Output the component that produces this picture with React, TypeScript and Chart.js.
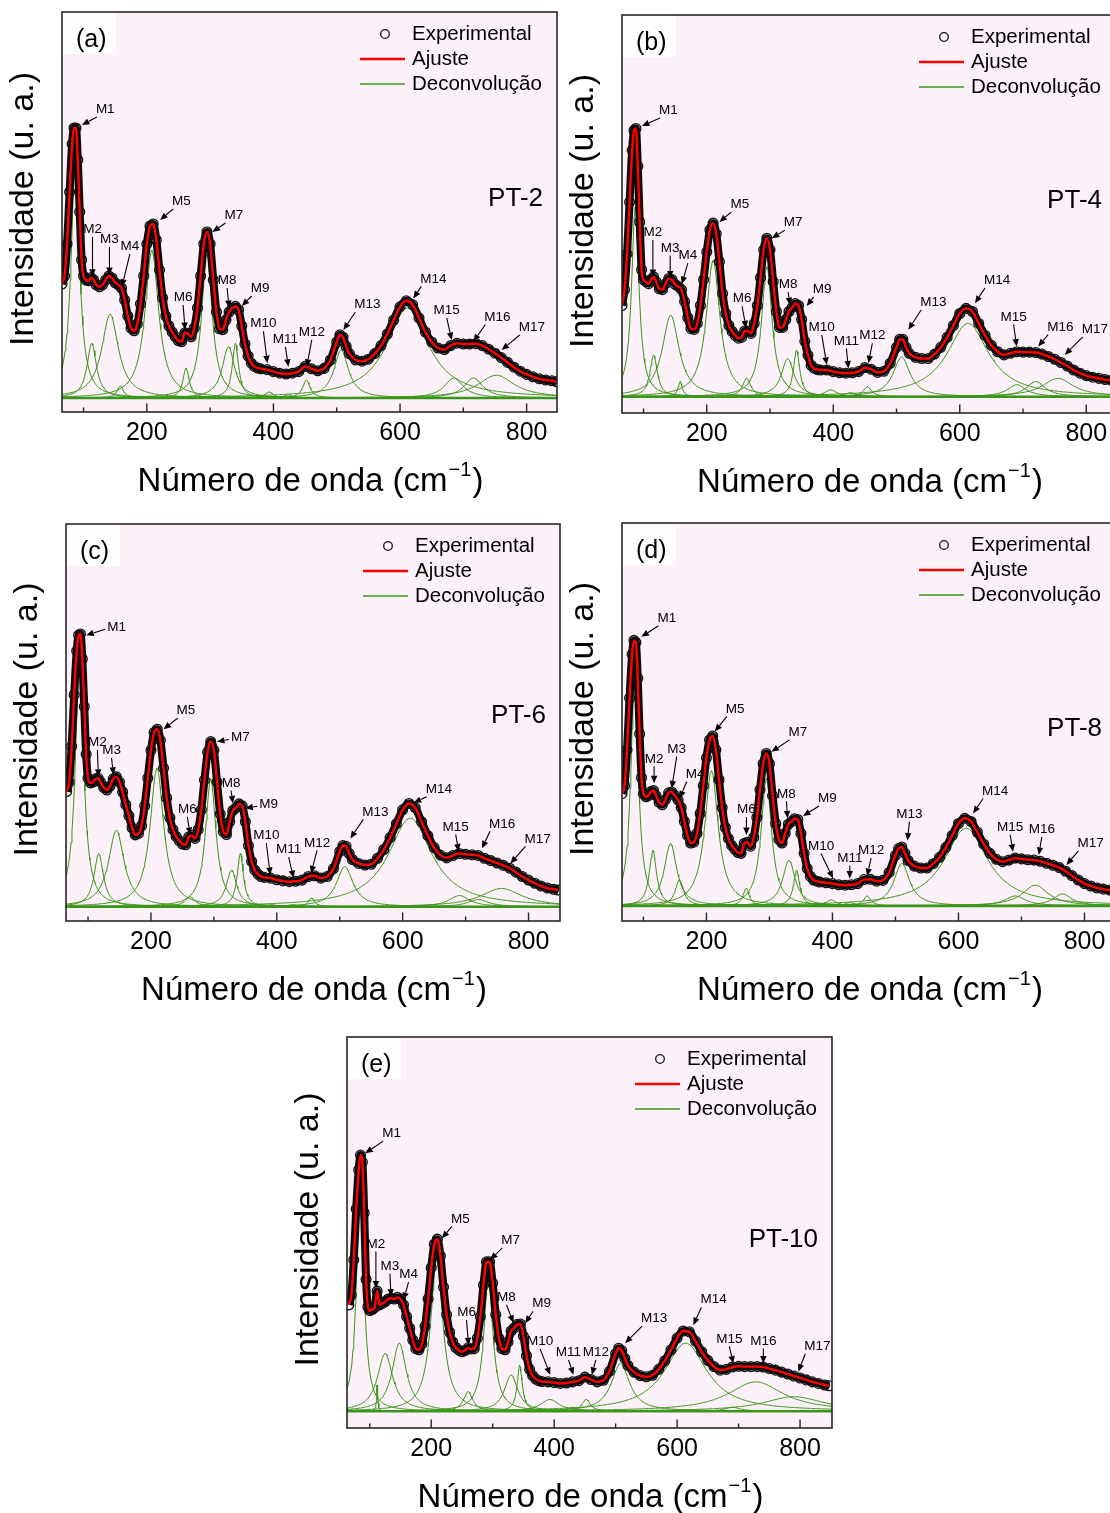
import React, { useEffect, useRef } from 'react';
import { Chart, registerables } from 'chart.js';

Chart.register(...registerables);

// ---------------- data ----------------
const WAVENUMBERS = [
  66, 70, 74, 78, 82, 85, 88, 91, 94, 97, 100,
  104, 108, 112, 116, 120,
  125, 130, 135, 140, 145, 150, 155, 160, 165, 170,
  175, 180, 185, 190, 195, 200, 205, 210, 215, 220,
  225, 230, 235, 240, 245, 250, 255, 260, 265, 270,
  275, 280, 285, 290, 295, 300, 305, 310, 315, 320,
  325, 330, 335, 340, 345, 350, 355, 360, 365, 370,
  375, 380,
  390, 400, 410, 420, 430, 440, 450, 460, 470, 480, 490, 500,
  505, 510, 515, 520,
  530, 540, 550, 560, 570, 580, 590, 600, 610, 620,
  630, 640, 650, 660, 670, 680, 690, 700, 710, 720,
  730, 740, 750, 760, 770, 780, 790, 800, 810, 820,
  830, 840,
  847,
];

const PT2_INTENSITY = [
  32, 34, 42, 55, 67, 71, 71, 63, 50, 38, 34,
  33, 32.8, 33.6, 33, 31.8,
  31.3, 31.8, 33, 34, 33.5, 32.3, 31.8, 31, 28, 24,
  21, 20.3, 22, 27, 34, 42, 46.5, 47, 43, 35.5,
  28.5, 24, 21.5, 20, 18.8, 17.8, 17.6, 19.8, 19.6, 18.8,
  21, 26, 34, 42, 45, 42, 33, 25, 20.8, 20.6,
  23, 25, 26, 26.4, 25.5, 21.5, 17, 14, 12.2, 11.4,
  11, 10.8,
  10.6, 10.1, 9.7, 9.5, 9.7, 10.1, 11.4, 10.8, 10.3, 10.9, 13, 17.5,
  19.3, 18.7, 16.4, 14.6,
  13, 12.7, 13.2, 14.6, 16.6, 19.5, 23, 26.3, 27.8, 26.8,
  23.5, 20, 17.5, 16, 15.6, 16.6, 17.2, 17, 17, 17.1,
  16.6, 15.7, 14.7, 13.6, 12.4, 11.2, 10.2, 9.4, 8.8, 8.3,
  8, 7.8,
  7.6,
];

const PT4_INTENSITY = [
  27, 31, 40, 53, 66, 71, 71.5, 62, 48, 36, 33.5,
  33, 32.5, 33.5, 34.2, 33,
  31.2, 31, 32.5, 33.8, 33.5, 32.3, 31.8, 31, 28, 24,
  21.2, 21, 22.5, 27, 33.5, 40.5, 46, 47.7, 45, 38,
  30, 25, 22, 20.5, 19.5, 18.8, 19, 20.6, 20.6, 20,
  22.5, 27, 34, 41, 43.9, 41, 33, 25.5, 21.5, 21.5,
  23.5, 25.5, 26.5, 27.5, 27, 23.5, 18, 14.5, 12, 11.2,
  10.9, 10.8,
  10.8, 10.4, 10.1, 10, 10.1, 10.4, 11.4, 11, 10.2, 10.5, 12.5, 16.5,
  18.5, 18.5, 16.5, 15,
  14, 13.7, 13.7, 14.8, 16.5, 19, 22, 25, 26.3, 25.5,
  22.5, 19.5, 17, 15.4, 14.6, 15, 15.4, 15.3, 15.3, 15.2,
  14.8, 14.2, 13.5, 12.7, 11.8, 10.8, 10, 9.4, 9, 8.7,
  8.4, 8.2,
  8.1,
];

const PT6_INTENSITY = [
  32.6, 35, 44, 57, 68, 72, 72.3, 66, 54, 42, 36,
  34.8, 35, 35.8, 36, 35,
  33.6, 33, 34, 35.8, 36.3, 35, 32.5, 29.3, 26.5, 23.5,
  21.7, 22, 24, 29, 36, 43, 47.5, 48.3, 45.5, 38.5,
  31, 26, 23, 21.3, 20.2, 19.4, 19.2, 21.2, 21.5, 20.8,
  23, 28, 35.5, 42.5, 45.2, 43, 35, 27, 22.5, 21.8,
  25, 27.8, 28.5, 29.5, 29, 25, 19, 15, 12.8, 11.8,
  11.2, 11,
  10.8, 10.4, 10.1, 9.9, 10, 10.3, 11.2, 11.4, 10.8, 11.2, 13.2, 17.5,
  19, 18.8, 17, 15.5,
  14.5, 14.1, 14.3, 15.8, 18, 21, 24.5, 28, 29.6, 28.5,
  25, 21.5, 18.5, 16.6, 15.9, 16.5, 17, 16.8, 16.7, 16.5,
  15.8, 15.2, 14.6, 14, 13.3, 12.3, 11.2, 10.3, 9.5, 8.8,
  8.3, 8,
  7.8,
];

const PT8_INTENSITY = [
  32, 34, 43, 56, 67, 70.5, 70, 61, 47, 36, 32,
  31.2, 31.5, 32.5, 32.8, 31.5,
  29.8, 29.2, 30.5, 32.2, 32.4, 31.5, 30.4, 28.5, 25, 21.5,
  19.6, 19.8, 22, 27, 34, 41, 45.5, 46.5, 43, 35.5,
  28.5, 23.5, 20.7, 19, 18, 17.2, 17, 19.5, 19.8, 18.8,
  21, 26, 33, 39.5, 42.1, 39.5, 31.5, 24.5, 20.5, 19.6,
  22, 24.3, 25, 25.7, 25.5, 22, 17, 13.2, 11.2, 10.3,
  10, 9.8,
  9.6, 9.4, 9.1, 9, 9.1, 9.4, 10.4, 10.5, 10, 10.2, 12.2, 16.5,
  18.2, 18.6, 17, 15.2,
  13.8, 13.3, 13.3, 14.4, 16, 18.5, 21.5, 24.5, 25.8, 25,
  22.3, 19.3, 17, 15.5, 14.9, 15.3, 15.8, 15.6, 15.4, 15.3,
  15, 14.5, 14, 13.4, 12.5, 11.4, 10.3, 9.4, 8.8, 8.3,
  8, 7.8,
  7.7,
];

const PT10_INTENSITY = [
  31.5, 34, 43, 56, 66, 69.8, 68, 55, 38, 31, 30,
  30.3, 30.8, 35, 31.5, 31.8,
  32.3, 33, 33.2, 33, 33.4, 33, 31.5, 28.5, 25.5, 22.5,
  20.3, 20, 21.5, 26, 33, 41, 47, 48.3, 44, 36,
  29, 24.5, 22, 20.6, 19.9, 19.5, 19.8, 20.5, 20.2, 20.3,
  23, 28.5, 36.5, 42.5, 42.5, 37, 29, 23, 20.3, 20,
  22, 24.8, 25.6, 26.5, 26.6, 23.5, 18.5, 15, 13.4, 12.5,
  12.1, 11.9,
  11.8, 11.6, 11.4, 11.5, 11.8, 12.1, 13, 12.4, 11.8, 12.2, 14.5, 19,
  20.4, 19.8, 17.8, 16,
  14.3, 13.4, 13.1, 13.5, 15, 17.2, 20, 23, 24.8, 24.6,
  22.2, 19.5, 17.3, 15.7, 14.8, 15, 15.6, 15.8, 15.7, 15.7,
  15.7, 15.6, 15.2, 14.8, 14.3, 13.8, 13.3, 12.8, 12.3, 11.8,
  11.4, 11,
  10.8,
];

// Deconvolution components (Lorentzian bands): centre, height above baseline, half width
const PT2_CENTERS = [87, 113, 142, 158, 208, 262, 295, 329, 340, 393, 423, 452, 507, 612, 685, 716, 752];
const PT2_HEIGHTS = [59, 13.7, 21, 3, 37, 7.5, 36, 12.8, 13.7, 1.5, 0.8, 4.5, 12, 22.5, 5, 5, 5.7];
const PT2_WIDTHS = [8, 9, 16, 6, 13, 6, 10, 12, 6, 8, 8, 7, 14, 40, 18, 18, 35];
const PT2_BASELINE = 3.5;

const PT4_CENTERS = [87, 116, 143, 158, 210, 263, 295, 328, 342, 396, 427, 454, 508, 613, 690, 720, 755];
const PT4_HEIGHTS = [47.7, 10.5, 20.5, 3.8, 34.3, 4.6, 32.7, 9.6, 11.7, 1.7, 1, 2.5, 10, 18.4, 3, 3.8, 4.6];
const PT4_WIDTHS = [7, 7, 16, 4, 13, 8, 10, 12, 6, 12, 10, 8, 16, 40, 18, 18, 30];
const PT4_BASELINE = 4.1;

const PT6_CENTERS = [86.5, 117, 145, 160, 209.5, 262, 295, 328, 342, 392, 425, 455, 508, 612, 690, 720, 757];
const PT6_HEIGHTS = [62, 13.4, 19.3, 0, 34.9, 2.5, 32.3, 9.2, 13.4, 0.5, 0.5, 2.2, 10.1, 22.3, 2.8, 1.8, 4.6];
const PT6_WIDTHS = [8, 9, 15, 8, 13, 10, 10, 10, 6, 10, 10, 6, 16, 42, 20, 20, 40];
const PT6_BASELINE = 3.6;

const PT8_CENTERS = [86, 115, 143, 157, 208, 263, 295, 331, 343, 398, 428, 455, 510, 612, 690, 722, 765];
const PT8_HEIGHTS = [59, 14, 15.7, 6.5, 34, 4.4, 32, 11.5, 9, 1.5, 0.8, 2.5, 10.7, 19.5, 2.5, 5.2, 3];
const PT8_WIDTHS = [7, 7, 12, 8, 13, 6, 10, 12, 6, 10, 10, 7, 15, 42, 20, 25, 18];
const PT8_BASELINE = 3.8;

const PT10_CENTERS = [84.5, 112, 125, 148, 209, 260, 293, 330, 344, 393, 430, 452, 508, 614, 690, 728, 790];
const PT10_HEIGHTS = [59, 6.7, 14.8, 17.4, 38.7, 5, 34, 9.3, 11.8, 3, 1, 3, 12.2, 17.4, 1, 7.5, 3.7];
const PT10_WIDTHS = [7, 1.2, 15, 14, 12, 9, 9, 13, 5, 18, 10, 8, 18, 42, 15, 55, 60];
const PT10_BASELINE = 4.3;

// x-axis ticks
const MAJOR_TICKS = [200, 400, 600, 800];
const MINOR_TICKS = [100, 300, 500, 700];

// Mode annotations: [label, arrow-tip wavenumber, arrow-tip intensity, tail dx px, tail dy px]
type Annot = [string, number, number, number, number];

const PT2_MODES: Annot[] = [
  ['M1', 97.4, 71.75, 15, -8], ['M2', 114.2, 33.8, 0, -40], ['M3', 141, 34.25, 0, -28],
  ['M4', 160.6, 31.3, 8, -33], ['M5', 221, 48, 13, -11], ['M6', 260.5, 20.5, -2, -25],
  ['M7', 303.7, 45, 13, -9], ['M8', 330, 26, -2, -20], ['M9', 350, 26.5, 10, -10],
  ['M10', 390.5, 12.2, -4, -32], ['M11', 423.7, 11.3, -3, -20], ['M12', 452.7, 11.3, 5, -27],
  ['M13', 510.5, 20.5, 12, -18], ['M14', 621, 28.4, 8, -12], ['M15', 681.7, 18, -5, -22],
  ['M16', 715.8, 17.6, 12, -17], ['M17', 760.6, 15.5, 18, -15],
];
const PT4_MODES: Annot[] = [
  ['M1', 97.5, 72.1, 18, -8], ['M2', 114.8, 34.2, 0, -37], ['M3', 142.2, 33.8, 0, -23],
  ['M4', 160.6, 32.4, 6, -21], ['M5', 220, 48, 12, -10], ['M6', 262.2, 21.3, -4, -22],
  ['M7', 302.8, 43.9, 13, -8], ['M8', 331.8, 27.1, -2, -13], ['M9', 358, 26.9, 7, -9],
  ['M10', 389.7, 12.1, -5, -30], ['M11', 423.9, 11.2, -2, -20], ['M12', 455.5, 12.5, 4, -20],
  ['M13', 518.6, 20.9, 13, -20], ['M14', 624, 27.6, 10, -15], ['M15', 689.9, 16.7, -3, -22],
  ['M16', 724, 16.7, 10, -12], ['M17', 766, 14.6, 18, -18],
];
const PT6_MODES: Annot[] = [
  ['M1', 97.1, 72, 19, -6], ['M2', 116.5, 36.3, -1, -27], ['M3', 140.5, 36.8, -2, -17],
  ['M5', 220, 48.3, 14, -11], ['M6', 262.5, 21.7, -3, -18], ['M7', 304.9, 45.2, 12, -2],
  ['M8', 330.4, 29.6, -2, -13], ['M9', 350, 28.4, 12, -2], ['M10', 389.6, 11.6, -4, -32],
  ['M11', 426.7, 10.8, -5, -21], ['M12', 454.4, 12, 6, -23], ['M13', 516.8, 20.8, 13, -19],
  ['M14', 617.5, 29.8, 13, -6], ['M15', 689, 17.5, -3, -17], ['M16', 726, 18.3, 8, -17],
  ['M17', 771.2, 14.5, 15, -17],
];
const PT8_MODES: Annot[] = [
  ['M1', 96.8, 71.4, 17, -11], ['M2', 117, 34.6, 0, -17], ['M3', 144.9, 33.3, 5, -32],
  ['M4', 157.6, 30.8, 7, -17], ['M5', 213.2, 47.6, 12, -15], ['M6', 263.5, 21.6, 0, -18],
  ['M7', 303.2, 42.5, 18, -12], ['M8', 328.6, 25.8, -1, -17], ['M9', 353.3, 26.4, 16, -10],
  ['M10', 400.9, 10.7, -12, -25], ['M11', 427.5, 10.7, 0, -13], ['M12', 455, 11.3, 4, -18],
  ['M13', 519, 20.2, 2, -19], ['M14', 623.2, 27, 10, -15], ['M15', 686.7, 17.4, -3, -17],
  ['M16', 727.5, 16.6, 3, -18], ['M17', 771.4, 14.1, 12, -14],
];
const PT10_MODES: Annot[] = [
  ['M1', 92.7, 70.3, 18, -12], ['M2', 110, 35.7, 0, -37], ['M3', 134.5, 33.6, -1, -23],
  ['M4', 155, 32.7, 5, -18], ['M5', 217.4, 48.5, 10, -12], ['M6', 260.7, 21.2, -2, -25],
  ['M7', 296, 43, 12, -12], ['M8', 333.8, 26.9, -7, -18], ['M9', 352.8, 26.8, 8, -12],
  ['M10', 393.5, 13.6, -10, -26], ['M11', 431.4, 13.6, -5, -15], ['M12', 461.3, 13.6, 4, -15],
  ['M13', 515.4, 21.7, 17, -17], ['M14', 626.5, 26.3, 8, -18], ['M15', 691.5, 16.5, -4, -17],
  ['M16', 740.3, 16.5, 0, -15], ['M17', 797.2, 14.4, 7, -18],
];

// ---------------- layout / style ----------------
const FONT = '"Liberation Sans", Arial, Helvetica, sans-serif';
const GREEN = 'rgb(58,150,24)';
const PINK = 'rgb(252,240,249)';

type Box = { left: number; top: number; right: number; bottom: number };
type PanelSpec = {
  letter: string;
  sample: string;
  sampleV: number;
  canvas: { left: number; top: number; width: number; height: number };
  area: Box;
  xMin: number;
  xMax: number;
  intensity: number[];
  baseline: number;
  centers: number[];
  heights: number[];
  widths: number[];
  modes: Annot[];
};

const PANELS: PanelSpec[] = [
  {
    letter: '(a)', sample: 'PT-2', sampleV: 53.3,
    canvas: { left: 0, top: 0, width: 570, height: 505 },
    area: { left: 62, top: 12, right: 557, bottom: 412 },
    xMin: 66, xMax: 848,
    intensity: PT2_INTENSITY, baseline: PT2_BASELINE,
    centers: PT2_CENTERS, heights: PT2_HEIGHTS, widths: PT2_WIDTHS, modes: PT2_MODES,
  },
  {
    letter: '(b)', sample: 'PT-4', sampleV: 53.3,
    canvas: { left: 560, top: 0, width: 570, height: 505 },
    area: { left: 622, top: 15, right: 1116, bottom: 413 },
    xMin: 66, xMax: 847,
    intensity: PT4_INTENSITY, baseline: PT4_BASELINE,
    centers: PT4_CENTERS, heights: PT4_HEIGHTS, widths: PT4_WIDTHS, modes: PT4_MODES,
  },
  {
    letter: '(c)', sample: 'PT-6', sampleV: 51.6,
    canvas: { left: 0, top: 510, width: 570, height: 500 },
    area: { left: 66, top: 524, right: 560, bottom: 921 },
    xMin: 65, xMax: 850,
    intensity: PT6_INTENSITY, baseline: PT6_BASELINE,
    centers: PT6_CENTERS, heights: PT6_HEIGHTS, widths: PT6_WIDTHS, modes: PT6_MODES,
  },
  {
    letter: '(d)', sample: 'PT-8', sampleV: 48.2,
    canvas: { left: 560, top: 510, width: 570, height: 500 },
    area: { left: 622, top: 523, right: 1116, bottom: 921 },
    xMin: 66, xMax: 850,
    intensity: PT8_INTENSITY, baseline: PT8_BASELINE,
    centers: PT8_CENTERS, heights: PT8_HEIGHTS, widths: PT8_WIDTHS, modes: PT8_MODES,
  },
  {
    letter: '(e)', sample: 'PT-10', sampleV: 48.1,
    canvas: { left: 280, top: 1025, width: 570, height: 488 },
    area: { left: 347, top: 1037, right: 832, bottom: 1428 },
    xMin: 63, xMax: 852,
    intensity: PT10_INTENSITY, baseline: PT10_BASELINE,
    centers: PT10_CENTERS, heights: PT10_HEIGHTS, widths: PT10_WIDTHS, modes: PT10_MODES,
  },
];

function componentPoints(spec: PanelSpec, k: number) {
  const c = spec.centers[k];
  const g = spec.widths[k];
  const h = spec.heights[k];
  const xs: number[] = [];
  for (let x = spec.xMin; x <= spec.xMax; x += 2) xs.push(x);
  [-4, -3, -2, -1.5, -1, -0.7, -0.4, -0.2, 0, 0.2, 0.4, 0.7, 1, 1.5, 2, 3, 4].forEach((f) => {
    const x = c + f * g;
    if (x >= spec.xMin && x <= spec.xMax) xs.push(x);
  });
  xs.sort((a, b) => a - b);
  return xs.map((x) => ({ x, y: spec.baseline + h / (1 + ((x - c) / g) ** 2) }));
}

function makeDecor(spec: PanelSpec) {
  return {
    id: 'decor',
    beforeDatasetsDraw(chart: any) {
      const { ctx, chartArea: a } = chart;
      ctx.save();
      ctx.fillStyle = PINK;
      ctx.fillRect(a.left, a.top, a.right - a.left, a.bottom - a.top);
      ctx.fillStyle = 'rgba(255,255,255,0.85)';
      ctx.fillRect(a.left, a.top, 54, 42);
      ctx.restore();
    },
    afterDatasetsDraw(chart: any) {
      const { ctx, chartArea: a, scales } = chart;
      const xs = scales.x;
      const ys = scales.y;
      ctx.save();
      // frame
      ctx.strokeStyle = '#262626';
      ctx.lineWidth = 1.6;
      ctx.strokeRect(a.left, a.top, a.right - a.left, a.bottom - a.top);
      // ticks (inward)
      ctx.lineWidth = 1.4;
      ctx.beginPath();
      MINOR_TICKS.forEach((t) => {
        const px = xs.getPixelForValue(t);
        ctx.moveTo(px, a.bottom);
        ctx.lineTo(px, a.bottom - 4.5);
      });
      MAJOR_TICKS.forEach((t) => {
        const px = xs.getPixelForValue(t);
        ctx.moveTo(px, a.bottom);
        ctx.lineTo(px, a.bottom - 8.5);
      });
      ctx.stroke();
      // tick labels
      ctx.fillStyle = '#000';
      ctx.font = `25px ${FONT}`;
      ctx.textAlign = 'center';
      ctx.textBaseline = 'middle';
      MAJOR_TICKS.forEach((t) => {
        ctx.fillText(String(t), xs.getPixelForValue(t), a.bottom + 21);
      });
      // x title with superscript
      const cx = (a.left + a.right) / 2;
      const ty = a.bottom + 67;
      const main = 'Número de onda (cm';
      const sup = '\u22121';
      const close = ')';
      ctx.font = `33px ${FONT}`;
      const wMain = ctx.measureText(main).width;
      const wClose = ctx.measureText(close).width;
      ctx.font = `20px ${FONT}`;
      const wSup = ctx.measureText(sup).width;
      let x0 = cx - (wMain + wSup + wClose) / 2;
      ctx.textAlign = 'left';
      ctx.textBaseline = 'alphabetic';
      ctx.font = `33px ${FONT}`;
      ctx.fillText(main, x0, ty + 12);
      x0 += wMain + 1;
      ctx.font = `20px ${FONT}`;
      ctx.fillText(sup, x0, ty - 3);
      x0 += wSup + 1;
      ctx.font = `33px ${FONT}`;
      ctx.fillText(close, x0, ty + 12);
      // y title
      ctx.save();
      ctx.translate(a.left - 38, (a.top + a.bottom) / 2 - 3);
      ctx.rotate(-Math.PI / 2);
      ctx.textAlign = 'center';
      ctx.textBaseline = 'middle';
      ctx.font = `34px ${FONT}`;
      ctx.fillText('Intensidade (u. a.)', 0, 0);
      ctx.restore();
      // panel letter
      ctx.font = `25px ${FONT}`;
      ctx.textAlign = 'left';
      ctx.textBaseline = 'middle';
      ctx.fillText(spec.letter, a.left + 14, a.top + 28);
      // sample name
      ctx.font = `26px ${FONT}`;
      ctx.textAlign = 'right';
      ctx.fillText(spec.sample, a.right - 14, ys.getPixelForValue(spec.sampleV));
      // legend
      const lx = a.right - 145;
      ctx.font = `20.5px ${FONT}`;
      ctx.textAlign = 'left';
      ctx.fillText('Experimental', lx, a.top + 22);
      ctx.fillText('Ajuste', lx, a.top + 47);
      ctx.fillText('Deconvolução', lx, a.top + 72);
      ctx.beginPath();
      ctx.strokeStyle = '#111';
      ctx.lineWidth = 1.3;
      ctx.arc(a.right - 172, a.top + 22, 4.3, 0, Math.PI * 2);
      ctx.stroke();
      ctx.beginPath();
      ctx.strokeStyle = '#ff0000';
      ctx.lineWidth = 2.5;
      ctx.moveTo(a.right - 197, a.top + 47);
      ctx.lineTo(a.right - 152, a.top + 47);
      ctx.stroke();
      ctx.beginPath();
      ctx.strokeStyle = GREEN;
      ctx.lineWidth = 1.3;
      ctx.moveTo(a.right - 197, a.top + 72);
      ctx.lineTo(a.right - 152, a.top + 72);
      ctx.stroke();
      // mode annotations
      ctx.font = `13.5px ${FONT}`;
      ctx.fillStyle = '#000';
      ctx.strokeStyle = '#000';
      ctx.lineWidth = 1.1;
      spec.modes.forEach(([name, w, v, dx, dy]) => {
        const tx = xs.getPixelForValue(w);
        const tyy = ys.getPixelForValue(v);
        const sx = tx + dx;
        const sy = tyy + dy;
        const len = Math.hypot(dx, dy);
        const ux = dx / len;
        const uy = dy / len;
        const head = 7.5;
        const hw = 3.2;
        ctx.beginPath();
        ctx.moveTo(sx, sy);
        ctx.lineTo(tx + ux * head, tyy + uy * head);
        ctx.stroke();
        ctx.beginPath();
        ctx.moveTo(tx, tyy);
        ctx.lineTo(tx + ux * head - uy * hw, tyy + uy * head + ux * hw);
        ctx.lineTo(tx + ux * head + uy * hw, tyy + uy * head - ux * hw);
        ctx.closePath();
        ctx.fill();
        ctx.textBaseline = 'middle';
        if (Math.abs(dy) < 0.4 * Math.abs(dx)) {
          ctx.textAlign = 'left';
          ctx.fillText(name, sx + 2, sy - 2);
        } else if (dx > 0.35 * Math.abs(dy)) {
          ctx.textAlign = 'left';
          ctx.fillText(name, sx - 1, sy - 7.5);
        } else {
          ctx.textAlign = 'center';
          ctx.fillText(name, sx, sy - 7.5);
        }
      });
      ctx.restore();
    },
  };
}

function Panel({ spec }: { spec: PanelSpec }) {
  const ref = useRef<HTMLCanvasElement | null>(null);
  useEffect(() => {
    const canvas = ref.current;
    if (!canvas) return;
    const exp = WAVENUMBERS.map((x, i) => ({ x, y: spec.intensity[i] }));
    const components: any[] = [];
    spec.centers.forEach((c, k) => {
      if (spec.heights[k] <= 0) return;
      components.push({
        label: 'Deconvolução',
        data: componentPoints(spec, k),
        borderColor: GREEN,
        borderWidth: 1,
        pointRadius: 0,
        tension: 0,
        clip: 0,
      });
    });
    const datasets: any[] = [
      {
        label: 'Ajuste',
        data: exp,
        borderColor: '#ff0000',
        borderWidth: 2.4,
        pointRadius: 0,
        cubicInterpolationMode: 'monotone',
        clip: 0,
      },
      {
        label: 'Experimental',
        data: exp,
        showLine: true,
        borderColor: '#0a0a0a',
        borderWidth: 8,
        pointRadius: 4.9,
        pointBorderWidth: 1.3,
        pointBorderColor: '#111',
        pointBackgroundColor: 'rgba(255,255,255,0)',
        cubicInterpolationMode: 'monotone',
        clip: 0,
      },
      {
        label: 'Linha base',
        data: [{ x: spec.xMin, y: spec.baseline }, { x: spec.xMax, y: spec.baseline }],
        borderColor: GREEN,
        borderWidth: 2.6,
        pointRadius: 0,
        clip: 0,
      },
      ...components,
    ];
    const c = spec.canvas;
    const a = spec.area;
    const chart = new Chart(canvas, {
      type: 'line',
      data: { datasets },
      options: {
        responsive: false,
        maintainAspectRatio: false,
        animation: false,
        events: [],
        layout: {
          padding: {
            left: a.left - c.left,
            top: a.top - c.top,
            right: c.left + c.width - a.right,
            bottom: c.top + c.height - a.bottom,
          },
        },
        plugins: { legend: { display: false }, tooltip: { enabled: false } },
        scales: {
          x: { type: 'linear', min: spec.xMin, max: spec.xMax, display: false },
          y: { type: 'linear', min: 0, max: 100, display: false },
        },
      },
      plugins: [makeDecor(spec)],
    } as any);
    return () => chart.destroy();
  }, [spec]);
  const c = spec.canvas;
  return (
    <canvas
      ref={ref}
      width={c.width}
      height={c.height}
      style={{ position: 'absolute', left: c.left, top: c.top, width: c.width, height: c.height }}
    />
  );
}

export default function App() {
  return (
    <div
      style={{
        position: 'absolute',
        left: 0,
        top: 0,
        width: 1110,
        height: 1513,
        overflow: 'hidden',
        background: '#ffffff',
      }}
    >
      {PANELS.map((p) => (
        <Panel key={p.letter} spec={p} />
      ))}
    </div>
  );
}
